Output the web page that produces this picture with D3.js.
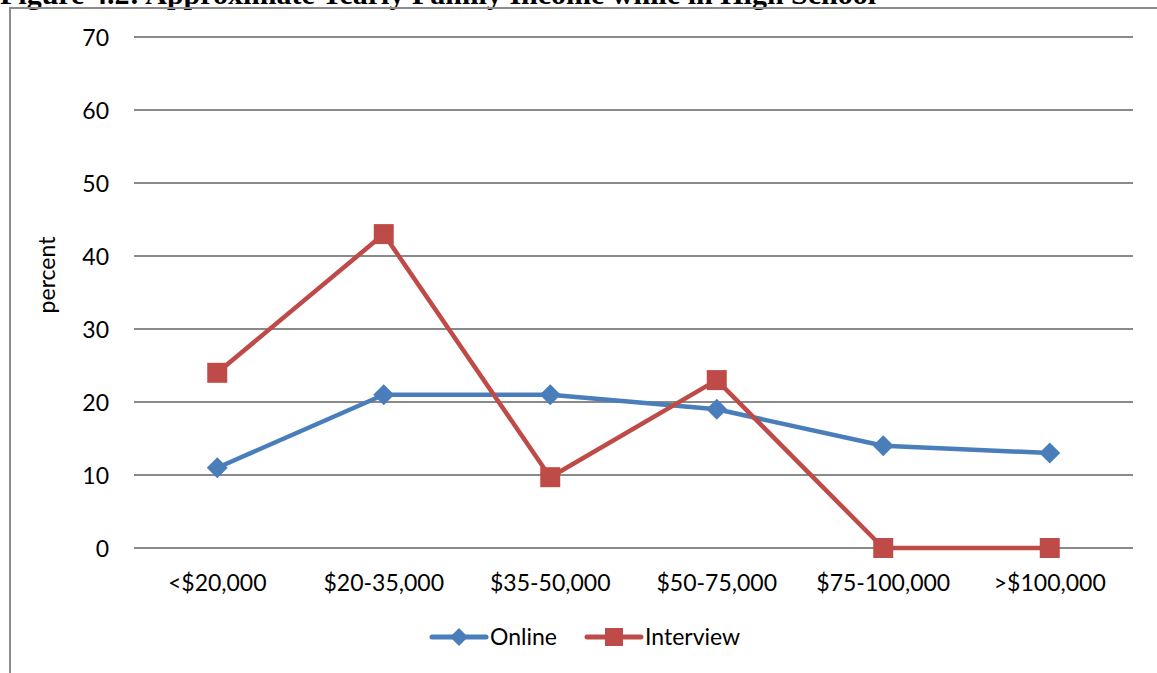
<!DOCTYPE html>
<html>
<head>
<meta charset="utf-8">
<script src="https://cdn.jsdelivr.net/npm/d3@7"></script>
<style>
  html, body { margin: 0; padding: 0; background: #fff; }
  svg { display: block; }
</style>
</head>
<body>
<svg id="chart" width="1157" height="673"></svg>
<script>
// Income brackets and the share of respondents (percent) in each
const categories = ["<$20,000", "$20-35,000", "$35-50,000", "$50-75,000", "$75-100,000", ">$100,000"];
const onlineValues = [11, 21, 21, 19, 14, 13];
const interviewValues = [24, 43, 9.7, 23, 0, 0];
const yTicks = [0, 10, 20, 30, 40, 50, 60, 70];
const seriesNames = ["Online", "Interview"];

const title = "Figure 4.2: Approximate Yearly Family Income while in High School";
const labelFont = "Lato, 'Open Sans', sans-serif";
const labelSize = 23;
const colors = { Online: "#4a7ebb", Interview: "#be4b48" };
const gridColor = "#8a8a8a";

const svg = d3.select("#chart");
const W = 1157, H = 673;
const plot = { left: 134, right: 1133, top: 37, bottom: 548 };

// Figure caption, running above the frame
svg.append("text")
  .attr("x", 0).attr("y", 4)
  .attr("font-family", "'Liberation Serif', 'Times New Roman', serif")
  .attr("font-weight", "bold")
  .attr("font-size", 30)
  .attr("fill", "#000")
  .text(title);

// Chart frame
svg.append("path")
  .attr("d", `M${W + 5},8 H10 V${H + 5}`)
  .attr("fill", "none")
  .attr("stroke", "#8c8c8c")
  .attr("stroke-width", 2);

const x = d3.scaleBand().domain(categories).range([plot.left, plot.right]);
const y = d3.scaleLinear().domain([0, 70]).range([plot.bottom, plot.top]);
const cx = d => x(d) + x.bandwidth() / 2;

// Horizontal gridlines
svg.append("g").selectAll("line").data(yTicks).join("line")
  .attr("x1", plot.left).attr("x2", plot.right)
  .attr("y1", d => y(d)).attr("y2", d => y(d))
  .attr("stroke", gridColor).attr("stroke-width", 2);

// Y axis labels
const yAxis = d3.axisLeft(y).tickValues(yTicks).tickSize(0).tickPadding(0);
const gy = svg.append("g").attr("transform", "translate(109,0)").call(yAxis);
gy.select(".domain").remove();
gy.selectAll("text")
  .attr("font-family", labelFont).attr("font-size", labelSize).attr("fill", "#000")
  .attr("dy", "0.35em");

// X axis labels
const xAxis = d3.axisBottom(x).tickSize(0).tickPadding(0);
const gx = svg.append("g").attr("transform", `translate(0,${plot.bottom})`).call(xAxis);
gx.select(".domain").remove();
gx.selectAll("text")
  .attr("font-family", labelFont).attr("font-size", labelSize).attr("fill", "#000")
  .attr("y", 35).attr("dy", "0.35em");

// Y axis title
svg.append("text")
  .attr("transform", "translate(47,275) rotate(-90)")
  .attr("text-anchor", "middle").attr("dy", "0.35em")
  .attr("font-family", labelFont).attr("font-size", labelSize).attr("fill", "#000")
  .text("percent");

const diamond = s => `M0,${-s} L${s},0 L0,${s} L${-s},0 Z`;
const square = s => `M${-s},${-s} H${s} V${s} H${-s} Z`;

const series = [
  { name: "Online", values: onlineValues, marker: diamond(10.5) },
  { name: "Interview", values: interviewValues, marker: square(10) }
];

const line = d3.line().x(d => cx(d.cat)).y(d => y(d.v));

series.forEach(s => {
  const pts = categories.map((c, i) => ({ cat: c, v: s.values[i] }));
  svg.append("path").datum(pts)
    .attr("d", line)
    .attr("fill", "none")
    .attr("stroke", colors[s.name])
    .attr("stroke-width", 4.5)
    .attr("stroke-linejoin", "round");
  svg.append("g").selectAll("path").data(pts).join("path")
    .attr("transform", d => `translate(${cx(d.cat)},${y(d.v)})`)
    .attr("d", s.marker)
    .attr("fill", colors[s.name]);
});

// Legend
const legendItems = [
  { name: "Online", x0: 432, marker: diamond(9) },
  { name: "Interview", x0: 587, marker: square(9) }
];
const ly = 637;
const lg = svg.append("g");
legendItems.forEach(it => {
  lg.append("line")
    .attr("x1", it.x0).attr("x2", it.x0 + 54)
    .attr("y1", ly).attr("y2", ly)
    .attr("stroke", colors[it.name]).attr("stroke-width", 5)
    .attr("stroke-linecap", "round");
  lg.append("path")
    .attr("transform", `translate(${it.x0 + 27},${ly})`)
    .attr("d", it.marker)
    .attr("fill", colors[it.name]);
  lg.append("text")
    .attr("x", it.x0 + 58).attr("y", ly).attr("dy", "0.35em")
    .attr("font-family", labelFont).attr("font-size", labelSize).attr("fill", "#000")
    .text(it.name);
});
</script>
</body>
</html>
